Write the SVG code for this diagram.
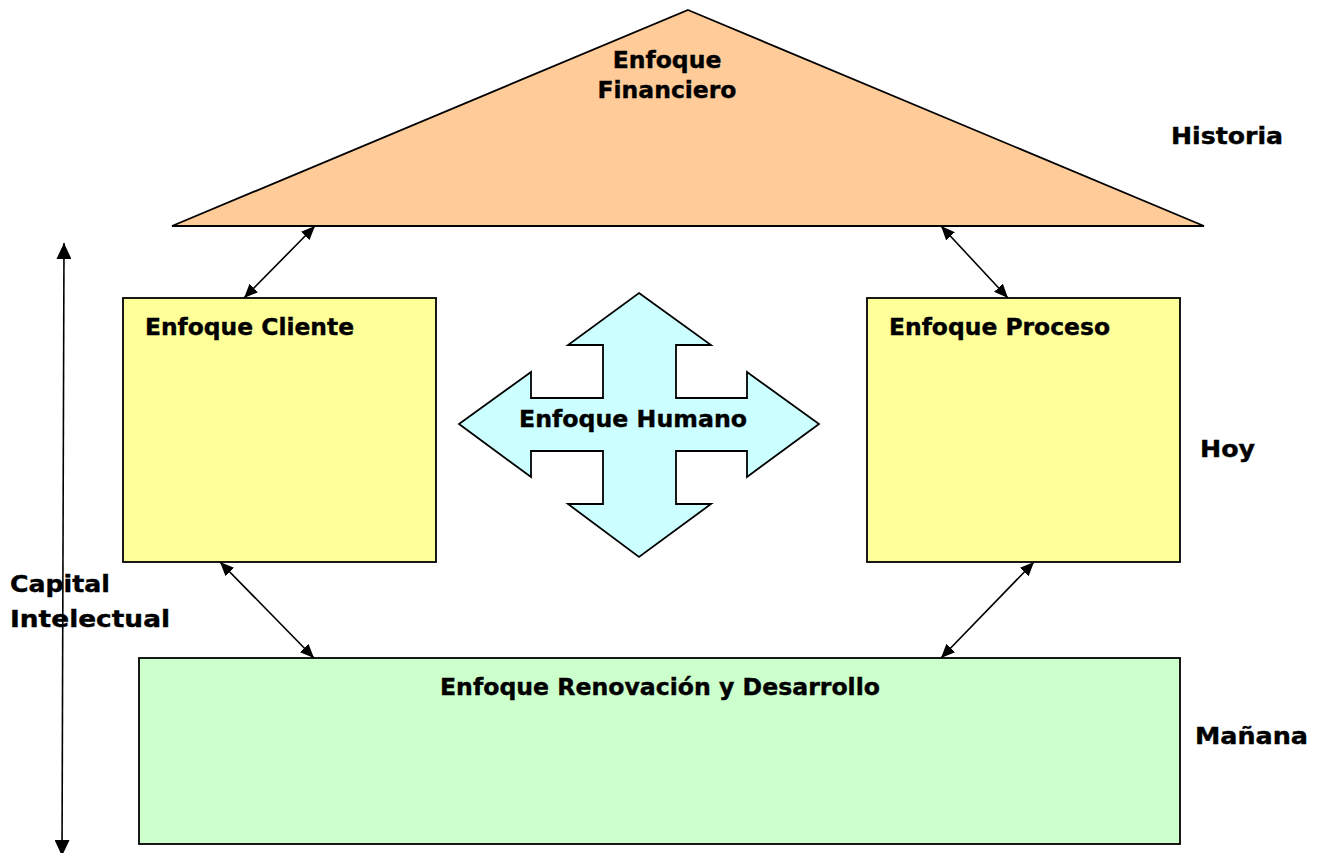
<svg xmlns="http://www.w3.org/2000/svg" width="1318" height="853" viewBox="0 0 1318 853">
<defs>
<style>
.t{font-family:"DejaVu Sans","Verdana",sans-serif;font-weight:bold;font-size:23.5px;fill:#000;stroke:#000;stroke-width:0.4}
.shape{stroke:#000;stroke-width:1.8}
.conn{stroke:#000;stroke-width:1.6;fill:none}
</style>
<marker id="ah" viewBox="0 0 14 12" refX="14" refY="6" markerWidth="14" markerHeight="12" markerUnits="userSpaceOnUse" orient="auto-start-reverse">
<path d="M0,0 L14,6 L0,12 Z" fill="#000"/>
</marker>
<marker id="ahb" viewBox="0 0 16 15" refX="16" refY="7.5" markerWidth="16" markerHeight="15" markerUnits="userSpaceOnUse" orient="auto-start-reverse">
<path d="M0,0 L16,7.5 L0,15 Z" fill="#000"/>
</marker>
</defs>
<rect width="1318" height="853" fill="#fff"/>
<g id="financiero">
<polygon class="shape" points="688,10 1204,226 172,226" fill="#FFCC99"/>
<text class="t" x="667" y="68" text-anchor="middle">Enfoque</text>
<text class="t" x="667" y="98" text-anchor="middle" textLength="139" lengthAdjust="spacingAndGlyphs">Financiero</text>
</g>
<g id="cliente">
<rect class="shape" x="123" y="298" width="313" height="264" fill="#FFFF99"/>
<text class="t" x="145" y="335" textLength="209" lengthAdjust="spacingAndGlyphs">Enfoque Cliente</text>
</g>
<g id="proceso">
<rect class="shape" x="867" y="298" width="313" height="264" fill="#FFFF99"/>
<text class="t" x="889" y="335" textLength="221" lengthAdjust="spacingAndGlyphs">Enfoque Proceso</text>
</g>
<g id="humano">
<polygon class="shape" fill="#CCFFFF" points="639,293 711,345 676,345 676,398 747,398 747,372 819,424 747,477 747,451 676,451 676,504 711,504 639,557 568,504 603,504 603,451 531,451 531,477 459,424 531,372 531,398 603,398 603,345 568,345"/>
<text class="t" x="633" y="427" text-anchor="middle" textLength="228" lengthAdjust="spacingAndGlyphs">Enfoque Humano</text>
</g>
<g id="renovacion">
<rect class="shape" x="139" y="658" width="1041" height="186" fill="#CCFFCC"/>
<text class="t" x="660" y="695" text-anchor="middle" textLength="440" lengthAdjust="spacingAndGlyphs">Enfoque Renovación y Desarrollo</text>
</g>
<g id="labels">
<text class="t" x="1171" y="144" textLength="112" lengthAdjust="spacingAndGlyphs">Historia</text>
<text class="t" x="1200" y="457" textLength="55" lengthAdjust="spacingAndGlyphs">Hoy</text>
<text class="t" x="1195" y="744" textLength="113" lengthAdjust="spacingAndGlyphs">Mañana</text>
<text class="t" x="10" y="592" textLength="100" lengthAdjust="spacingAndGlyphs">Capital</text>
<text class="t" x="10" y="627" textLength="160" lengthAdjust="spacingAndGlyphs">Intelectual</text>
</g>
<g id="connectors">
<line class="conn" x1="315" y1="226" x2="244" y2="298" marker-start="url(#ah)" marker-end="url(#ah)"/>
<line class="conn" x1="941" y1="226" x2="1008" y2="298" marker-start="url(#ah)" marker-end="url(#ah)"/>
<line class="conn" x1="220" y1="562" x2="314" y2="658" marker-start="url(#ah)" marker-end="url(#ah)"/>
<line class="conn" x1="1034" y1="562" x2="941" y2="658" marker-start="url(#ah)" marker-end="url(#ah)"/>
<line class="conn" x1="64" y1="243" x2="62" y2="856" marker-start="url(#ahb)" marker-end="url(#ahb)"/>
</g>
</svg>
